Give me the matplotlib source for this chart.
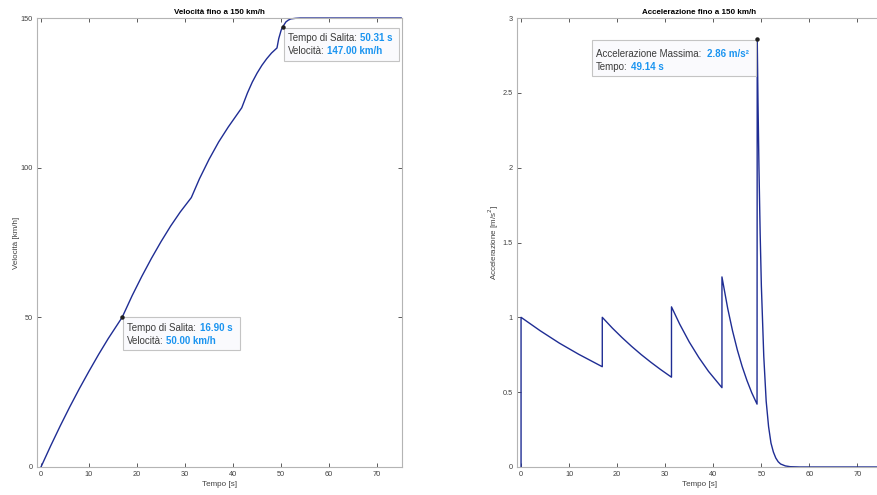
import numpy as np
import matplotlib
matplotlib.use("Agg")
import matplotlib.pyplot as plt
import matplotlib.transforms as mtransforms
from matplotlib.patches import Rectangle
from matplotlib.ticker import FormatStrFormatter

plt.rcParams['font.family'] = ['Liberation Sans', 'DejaVu Sans']

# Velocity profile (s, km/h)
t_vel = [0, 2, 4, 6, 8, 10, 12, 14, 16.9,
         19, 21, 23, 25, 27, 29, 31.3,
         33, 35, 37, 39, 41.8,
         43, 44, 45, 46, 47, 48, 49.14,
         49.5, 50, 50.31, 51, 51.5, 52, 53, 54, 60, 75]
v_vel = [0, 7.0, 13.7, 20.1, 26.2, 32.0, 37.6, 42.9, 50,
         57.3, 63.7, 69.7, 75.3, 80.5, 85.2, 90,
         96.3, 102.8, 108.6, 113.6, 120,
         125.0, 128.6, 131.6, 134.2, 136.4, 138.3, 140,
         143.1, 145.9, 147, 148.7, 149.3, 149.7, 149.9, 150, 150, 150]

# Acceleration profile (s, m/s^2)
t_acc = [0, 0, 4, 8, 12, 16.9,
         16.9, 19, 21, 23, 25, 27, 29, 31.3,
         31.3, 33, 35, 37, 39, 41.8,
         41.8, 43, 44, 45, 46, 47, 48, 49.1,
         49.14, 49.3, 49.5, 49.75, 50, 50.5, 51, 51.5, 52, 52.5, 53, 53.5, 54, 55, 56, 58, 75]
a_acc = [0, 1.0, 0.910, 0.827, 0.753, 0.67,
         1.0, 0.928, 0.865, 0.806, 0.751, 0.700, 0.652, 0.60,
         1.07, 0.955, 0.835, 0.731, 0.639, 0.53,
         1.27, 1.059, 0.910, 0.782, 0.672, 0.578, 0.496, 0.42,
         2.86, 2.44, 2.0, 1.56, 1.21, 0.74, 0.44, 0.27, 0.16, 0.10, 0.06, 0.035, 0.02, 0.007, 0.002, 0, 0]

# data tips: (t, y, label1, value1, label2, value2)
tips_vel = [(16.90, 50.0, "Tempo di Salita:", "16.90 s", "Velocità:", "50.00 km/h"),
            (50.31, 147.0, "Tempo di Salita:", "50.31 s", "Velocità:", "147.00 km/h")]
tip_acc = (49.14, 2.86, "Accelerazione Massima:", "2.86 m/s²", "Tempo:", "49.14 s")

line_col = '#1f2d94'
val_col = '#1a94f0'
lab_col = '#3c3c3c'

fig = plt.figure(figsize=(8.77, 4.95), dpi=100)
ax1 = fig.add_axes([0.0418, 0.0566, 0.4162, 0.9070])
ax2 = fig.add_axes([0.5892, 0.0566, 0.4165, 0.9070])


def style_axes(ax):
    for sp in ax.spines.values():
        sp.set_color('#b4b4b4')
        sp.set_linewidth(0.8)
    ax.tick_params(direction='in', length=3, width=0.6, color='#404040',
                   labelsize=5.3, labelcolor='#404040', top=True, right=True, pad=3)
    ax.set_xlim(-0.9, 75.1)
    ax.set_xticks(np.arange(0, 80, 10))
    ax.yaxis.set_major_formatter(FormatStrFormatter('%g'))
    ax.set_xlabel('Tempo [s]', fontsize=5.8, color='#404040', labelpad=2)


def datatip(ax, tip, box, x0, y1, y2, vx1, vx2):
    # box and text positions are pixel offsets from the data point
    t, y, l1, v1, l2, v2 = tip
    ax.plot(t, y, 'o', ms=2.2, color='#202020', zorder=6, clip_on=False)
    trans = mtransforms.IdentityTransform() + mtransforms.ScaledTranslation(t, y, ax.transData)
    ax.add_patch(Rectangle((box[0], box[1]), box[2], box[3], transform=trans,
                           facecolor='#fafafd', edgecolor='#c4c4c4', lw=0.8, zorder=5,
                           clip_on=False))
    for lab, val, yy, vx in [(l1, v1, y1, vx1), (l2, v2, y2, vx2)]:
        ax.annotate(lab, xy=(t, y), xytext=(x0, yy), textcoords='offset pixels',
                    fontsize=7, color=lab_col, va='center', ha='left', zorder=7)
        ax.annotate(val, xy=(t, y), xytext=(x0 + vx, yy), textcoords='offset pixels',
                    fontsize=7, color=val_col, fontweight='bold',
                    va='center', ha='left', zorder=7)


# Velocity
style_axes(ax1)
ax1.plot(t_vel, v_vel, color=line_col, lw=1.0, clip_on=False)
ax1.set_ylim(0, 150)
ax1.set_yticks([0, 50, 100, 150])
ax1.set_ylabel('Velocità [km/h]', fontsize=5.8, color='#404040', labelpad=0)
ax1.set_title('Velocità fino a 150 km/h', fontsize=5.8, fontweight='bold', pad=3)
datatip(ax1, tips_vel[0], (1, -33, 117, 33), 5, -11, -24, 73, 39)
datatip(ax1, tips_vel[1], (1, -34, 115, 33), 5, -11, -24, 72.5, 39)

# Acceleration
style_axes(ax2)
ax2.plot(t_acc, a_acc, color=line_col, lw=1.0, clip_on=False)
ax2.set_ylim(0, 3)
ax2.set_yticks(np.arange(0, 3.5, 0.5))
ax2.set_ylabel('Accelerazione [m/s$^2$]', fontsize=5.8, color='#404040', labelpad=1)
ax2.set_title('Accelerazione fino a 150 km/h', fontsize=5.8, fontweight='bold', pad=3)
datatip(ax2, tip_acc, (-165, -37, 164, 36), -161, -15, -28, 111, 34.5)

fig.savefig('out.png', dpi=100)
